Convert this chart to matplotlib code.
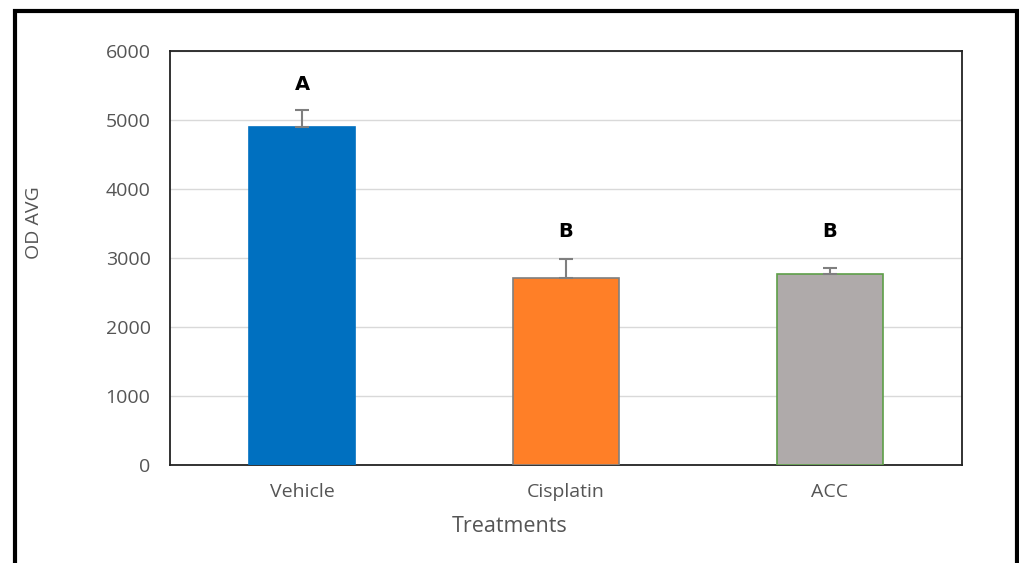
import matplotlib
matplotlib.use("Agg")
import matplotlib.pyplot as plt
from matplotlib.patches import Rectangle

categories = ["Vehicle", "Cisplatin", "ACC"]
means = [4900, 2710, 2770]
errors = [245, 280, 90]
letters = ["A", "B", "B"]
letter_pos = [5510, 3390, 3390]
y_ticks = [0, 1000, 2000, 3000, 4000, 5000, 6000]

face_colors = ["#0070C0", "#FF7F27", "#AFAAAA"]
edge_colors = ["#0070C0", "#7F7F7F", "#5E9E48"]

plt.rcParams['font.family'] = ['Open Sans', 'DejaVu Sans']

W, H = 1019, 563
fig = plt.figure(figsize=(W / 100, H / 100), dpi=100)
ax = fig.add_axes([170 / W, 1 - 465 / H, (962 - 170) / W, (465 - 51) / H])

x = list(range(len(categories)))
ax.bar(x, means, width=0.40, color=face_colors, edgecolor=edge_colors, linewidth=1.2, zorder=3)
ax.errorbar(x, means, yerr=[[0] * len(errors), errors], fmt="none", ecolor="#7F7F7F",
            elinewidth=1.5, capsize=5, capthick=1.5, zorder=4)

for xi, lt, lp in zip(x, letters, letter_pos):
    ax.text(xi, lp, lt, ha="center", va="center", fontsize=14, fontweight="bold", color="black",
            family=["DejaVu Sans"])

ax.set_xlim(-0.5, 2.5)
ax.set_ylim(0, 6000)
ax.set_yticks(y_ticks)
ax.set_xticks(x)
ax.set_xticklabels(categories)
ax.yaxis.grid(True, color="#D9D9D9", linewidth=1.0, zorder=0)
ax.set_axisbelow(True)
ax.tick_params(axis="both", length=0, labelsize=14, labelcolor="#555555")
ax.tick_params(axis="y", pad=14)
ax.tick_params(axis="x", pad=13)

for side in ["left", "bottom", "top", "right"]:
    ax.spines[side].set_color("#222222")
    ax.spines[side].set_linewidth(1.3)

fig.text(34 / W, 1 - 223 / H, "OD AVG", rotation=90, ha="center", va="center",
         fontsize=14, color="#555555")
fig.text(510 / W, 1 - 526 / H, "Treatments", ha="center", va="center",
         fontsize=15.5, color="#555555")

border = Rectangle((14.5 / W, -0.1), (1016.5 - 14.5) / W, 1 - 11.5 / H + 0.1,
                   transform=fig.transFigure, fill=False, edgecolor="black", linewidth=3,
                   clip_on=False)
fig.patches.append(border)

fig.savefig("out.png", dpi=100)
